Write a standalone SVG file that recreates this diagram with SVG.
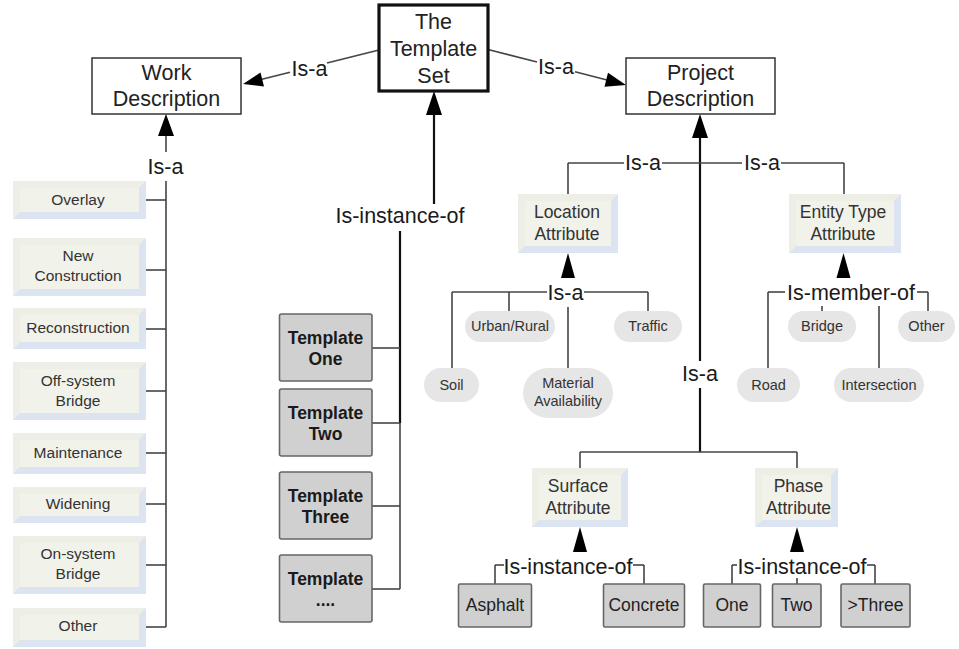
<svg xmlns="http://www.w3.org/2000/svg" width="959" height="649" viewBox="0 0 959 649">
<defs>
<style>
text{font-family:"Liberation Sans",Arial,sans-serif;text-anchor:middle}
.lbl{font-size:21.5px;fill:#1a1a1a}
.main{font-size:21.5px;fill:#222}
.box{fill:#fff;stroke:#333;stroke-width:1.5}
.setbox{fill:#fff;stroke:#111;stroke-width:3.2}
.bv-o{fill:#DCE4F2}
.bv-tl{fill:#EDEEE6}
.bv-f{fill:#F1F2EA}
.ltxt{font-size:15.5px;fill:#333}
.atxt{font-size:17.5px;fill:#333}
.pill{fill:#E6E6E6}
.ptxt{font-size:14.5px;fill:#333}
.tbox{fill:#D0D0D0;stroke:#666;stroke-width:1.6}
.ttxt{font-size:17.5px;font-weight:bold;fill:#1a1a1a}
.gtxt{font-size:17.5px;fill:#222}
.thick{stroke:#111;stroke-width:2.2;fill:none}
.thin{stroke:#444;stroke-width:1.6;fill:none}
.head{fill:#000}
</style>
</defs>
<rect width="959" height="649" fill="#fff"/>

<g id="connectors">
  <line class="thin" x1="379" y1="50" x2="327" y2="63"/>
  <line class="thin" x1="290" y1="72.3" x2="262" y2="79.3"/>
  <polygon class="head" points="243,84 260.5,72.5 264,86.5"/>
  <text class="lbl" x="309.5" y="76">Is-a</text>
  <line class="thin" x1="488" y1="49.5" x2="537" y2="62"/>
  <line class="thin" x1="575" y1="71.8" x2="607" y2="80"/>
  <polygon class="head" points="626,85 604.5,86.8 608,72.8"/>
  <text class="lbl" x="556" y="73.5">Is-a</text>

  <polygon class="head" points="166,114 158,136 174,136"/>
  <line class="thin" x1="166" y1="136" x2="166" y2="152"/>
  <text class="lbl" x="165.5" y="174">Is-a</text>
  <line class="thin" x1="166" y1="181" x2="166" y2="627"/>
  <line class="thin" x1="146" y1="200" x2="166" y2="200"/>
  <line class="thin" x1="146" y1="270" x2="166" y2="270"/>
  <line class="thin" x1="146" y1="329" x2="166" y2="329"/>
  <line class="thin" x1="146" y1="391" x2="166" y2="391"/>
  <line class="thin" x1="146" y1="453" x2="166" y2="453"/>
  <line class="thin" x1="146" y1="504" x2="166" y2="504"/>
  <line class="thin" x1="146" y1="565" x2="166" y2="565"/>
  <line class="thin" x1="146" y1="627" x2="166" y2="627"/>

  <polygon class="head" points="434,91 426,115 442,115"/>
  <line class="thick" x1="434" y1="115" x2="434" y2="204"/>
  <text class="lbl" x="400" y="223">Is-instance-of</text>
  <line class="thick" x1="400" y1="231" x2="400" y2="423"/>
  <line class="thin" x1="400" y1="423" x2="400" y2="589"/>
  <line class="thin" x1="372" y1="348" x2="400" y2="348"/>
  <line class="thin" x1="372" y1="423" x2="400" y2="423"/>
  <line class="thin" x1="372" y1="506" x2="400" y2="506"/>
  <line class="thin" x1="372" y1="589" x2="400" y2="589"/>

  <polygon class="head" points="700,114 692,138 708,138"/>
  <line class="thick" x1="700" y1="138" x2="700" y2="361"/>
  <line class="thin" x1="568" y1="163" x2="624" y2="163"/>
  <line class="thin" x1="662" y1="163" x2="742" y2="163"/>
  <line class="thin" x1="781" y1="163" x2="844" y2="163"/>
  <line class="thin" x1="568" y1="163" x2="568" y2="194"/>
  <line class="thin" x1="844" y1="163" x2="844" y2="194"/>
  <text class="lbl" x="643" y="170">Is-a</text>
  <text class="lbl" x="762" y="170">Is-a</text>
  <text class="lbl" x="700" y="380.5">Is-a</text>
  <line class="thick" x1="700" y1="388" x2="700" y2="452"/>
  <line class="thin" x1="580" y1="452" x2="797" y2="452"/>
  <line class="thin" x1="580" y1="452" x2="580" y2="468"/>
  <line class="thin" x1="797" y1="452" x2="797" y2="468"/>

  <polygon class="head" points="568,253 561,278 575,278"/>
  <line class="thin" x1="452" y1="292" x2="547" y2="292"/>
  <line class="thin" x1="584" y1="292" x2="648" y2="292"/>
  <line class="thin" x1="452" y1="292" x2="452" y2="368"/>
  <line class="thin" x1="509" y1="292" x2="509" y2="311"/>
  <line class="thin" x1="648" y1="292" x2="648" y2="311"/>
  <line class="thin" x1="568" y1="307" x2="568" y2="368"/>
  <text class="lbl" x="565.5" y="300">Is-a</text>

  <polygon class="head" points="843.5,253 836.5,278 850.5,278"/>
  <line class="thin" x1="768" y1="292" x2="785" y2="292"/>
  <line class="thin" x1="768" y1="292" x2="768" y2="368"/>
  <line class="thin" x1="917" y1="292" x2="928" y2="292"/>
  <line class="thin" x1="928" y1="292" x2="928" y2="311"/>
  <line class="thin" x1="822" y1="306" x2="822" y2="311"/>
  <line class="thin" x1="879" y1="306" x2="879" y2="368"/>
  <text class="lbl" x="851" y="300">Is-member-of</text>

  <polygon class="head" points="580,527 573,552 587,552"/>
  <line class="thin" x1="495" y1="565" x2="504" y2="565"/>
  <line class="thin" x1="495" y1="565" x2="495" y2="584"/>
  <line class="thin" x1="633" y1="565" x2="644" y2="565"/>
  <line class="thin" x1="644" y1="565" x2="644" y2="584"/>
  <text class="lbl" x="568" y="573.5">Is-instance-of</text>

  <polygon class="head" points="797,527 790,552 804,552"/>
  <line class="thin" x1="732" y1="565" x2="737" y2="565"/>
  <line class="thin" x1="732" y1="565" x2="732" y2="584"/>
  <line class="thin" x1="867" y1="565" x2="875" y2="565"/>
  <line class="thin" x1="875" y1="565" x2="875" y2="584"/>
  <line class="thin" x1="797" y1="578" x2="797" y2="584"/>
  <text class="lbl" x="802" y="573.5">Is-instance-of</text>
</g>

<g id="template-set">
  <rect class="setbox" x="379" y="5" width="109" height="86"/>
  <text class="main" x="433.5" y="28.5">The</text>
  <text class="main" x="433.5" y="55.5">Template</text>
  <text class="main" x="433.5" y="82.5">Set</text>
</g>
<g id="work-description">
  <rect class="box" x="92" y="58" width="149" height="56"/>
  <text class="main" x="166.5" y="80">Work</text>
  <text class="main" x="166.5" y="106">Description</text>
</g>
<g id="project-description">
  <rect class="box" x="626" y="58" width="149" height="56"/>
  <text class="main" x="700.5" y="80">Project</text>
  <text class="main" x="700.5" y="106">Description</text>
</g>

<g id="overlay">
  <rect class="bv-o" x="13" y="181" width="133" height="38"/>
  <polygon class="bv-tl" points="13,181 146,181 139,188 20,188 20,212 13,219"/>
  <rect class="bv-f" x="20" y="188" width="119" height="24"/>
  <text class="ltxt" x="78" y="204.5">Overlay</text>
</g>
<g id="new-construction">
  <rect class="bv-o" x="13" y="238" width="133" height="58"/>
  <polygon class="bv-tl" points="13,238 146,238 139,245 20,245 20,289 13,296"/>
  <rect class="bv-f" x="20" y="245" width="119" height="44"/>
  <text class="ltxt" x="78" y="261">New</text>
  <text class="ltxt" x="78" y="281">Construction</text>
</g>
<g id="reconstruction">
  <rect class="bv-o" x="13" y="308" width="133" height="41"/>
  <polygon class="bv-tl" points="13,308 146,308 139,315 20,315 20,342 13,349"/>
  <rect class="bv-f" x="20" y="315" width="119" height="27"/>
  <text class="ltxt" x="78" y="333">Reconstruction</text>
</g>
<g id="off-system-bridge">
  <rect class="bv-o" x="13" y="362" width="133" height="58"/>
  <polygon class="bv-tl" points="13,362 146,362 139,369 20,369 20,413 13,420"/>
  <rect class="bv-f" x="20" y="369" width="119" height="44"/>
  <text class="ltxt" x="78" y="386">Off-system</text>
  <text class="ltxt" x="78" y="406">Bridge</text>
</g>
<g id="maintenance">
  <rect class="bv-o" x="13" y="433" width="133" height="41"/>
  <polygon class="bv-tl" points="13,433 146,433 139,440 20,440 20,467 13,474"/>
  <rect class="bv-f" x="20" y="440" width="119" height="27"/>
  <text class="ltxt" x="78" y="457.5">Maintenance</text>
</g>
<g id="widening">
  <rect class="bv-o" x="13" y="487" width="133" height="36"/>
  <polygon class="bv-tl" points="13,487 146,487 139,494 20,494 20,516 13,523"/>
  <rect class="bv-f" x="20" y="494" width="119" height="22"/>
  <text class="ltxt" x="78" y="509">Widening</text>
</g>
<g id="on-system-bridge">
  <rect class="bv-o" x="13" y="536" width="133" height="58"/>
  <polygon class="bv-tl" points="13,536 146,536 139,543 20,543 20,587 13,594"/>
  <rect class="bv-f" x="20" y="543" width="119" height="44"/>
  <text class="ltxt" x="78" y="559">On-system</text>
  <text class="ltxt" x="78" y="579">Bridge</text>
</g>
<g id="other-work">
  <rect class="bv-o" x="13" y="608" width="133" height="39"/>
  <polygon class="bv-tl" points="13,608 146,608 139,615 20,615 20,640 13,647"/>
  <rect class="bv-f" x="20" y="615" width="119" height="25"/>
  <text class="ltxt" x="78" y="631">Other</text>
</g>

<g id="template-one">
  <rect class="tbox" x="279.5" y="314" width="92.5" height="67" rx="2"/>
  <text class="ttxt" x="325.5" y="343.5">Template</text>
  <text class="ttxt" x="325.5" y="364.5">One</text>
</g>
<g id="template-two">
  <rect class="tbox" x="279.5" y="389" width="92.5" height="67" rx="2"/>
  <text class="ttxt" x="325.5" y="418.5">Template</text>
  <text class="ttxt" x="325.5" y="439.5">Two</text>
</g>
<g id="template-three">
  <rect class="tbox" x="279.5" y="472" width="92.5" height="67" rx="2"/>
  <text class="ttxt" x="325.5" y="501.5">Template</text>
  <text class="ttxt" x="325.5" y="522.5">Three</text>
</g>
<g id="template-more">
  <rect class="tbox" x="279.5" y="555" width="92.5" height="67" rx="2"/>
  <text class="ttxt" x="325.5" y="584.5">Template</text>
  <text class="ttxt" x="325.5" y="605.5">....</text>
</g>

<g id="location-attribute">
  <rect class="bv-o" x="518" y="194" width="100" height="59"/>
  <polygon class="bv-tl" points="518,194 618,194 611,201 525,201 525,246 518,253"/>
  <rect class="bv-f" x="525" y="201" width="86" height="45"/>
  <text class="atxt" x="567" y="217.5">Location</text>
  <text class="atxt" x="567" y="239.5">Attribute</text>
</g>
<g id="entity-type-attribute">
  <rect class="bv-o" x="789" y="194" width="112" height="59"/>
  <polygon class="bv-tl" points="789,194 901,194 894,201 796,201 796,246 789,253"/>
  <rect class="bv-f" x="796" y="201" width="98" height="45"/>
  <text class="atxt" x="843" y="217.5">Entity Type</text>
  <text class="atxt" x="843" y="239.5">Attribute</text>
</g>
<g id="surface-attribute">
  <rect class="bv-o" x="532" y="468" width="96" height="59"/>
  <polygon class="bv-tl" points="532,468 628,468 621,475 539,475 539,520 532,527"/>
  <rect class="bv-f" x="539" y="475" width="82" height="45"/>
  <text class="atxt" x="578" y="491.5">Surface</text>
  <text class="atxt" x="578" y="513.5">Attribute</text>
</g>
<g id="phase-attribute">
  <rect class="bv-o" x="755" y="468" width="83" height="59"/>
  <polygon class="bv-tl" points="755,468 838,468 831,475 762,475 762,520 755,527"/>
  <rect class="bv-f" x="762" y="475" width="69" height="45"/>
  <text class="atxt" x="798.5" y="491.5">Phase</text>
  <text class="atxt" x="798.5" y="513.5">Attribute</text>
</g>

<g id="urban-rural">
  <rect class="pill" x="465" y="311" width="90" height="31" rx="15.5"/>
  <text class="ptxt" x="510" y="331">Urban/Rural</text>
</g>
<g id="traffic">
  <rect class="pill" x="614" y="311" width="68" height="31" rx="15.5"/>
  <text class="ptxt" x="648" y="331">Traffic</text>
</g>
<g id="soil">
  <rect class="pill" x="424" y="368" width="55" height="34" rx="17"/>
  <text class="ptxt" x="451.5" y="390">Soil</text>
</g>
<g id="material-availability">
  <rect class="pill" x="523" y="368" width="90" height="50" rx="25"/>
  <text class="ptxt" x="568" y="388">Material</text>
  <text class="ptxt" x="568" y="406">Availability</text>
</g>
<g id="bridge">
  <rect class="pill" x="788" y="311" width="68" height="31" rx="15.5"/>
  <text class="ptxt" x="822" y="331">Bridge</text>
</g>
<g id="other-entity">
  <rect class="pill" x="898" y="311" width="57" height="31" rx="15.5"/>
  <text class="ptxt" x="926.5" y="331">Other</text>
</g>
<g id="road">
  <rect class="pill" x="737" y="368" width="63" height="34" rx="17"/>
  <text class="ptxt" x="768.5" y="390">Road</text>
</g>
<g id="intersection">
  <rect class="pill" x="834" y="368" width="90" height="34" rx="17"/>
  <text class="ptxt" x="879" y="390">Intersection</text>
</g>

<g id="asphalt">
  <rect class="tbox" x="458.5" y="584" width="73" height="43" rx="1.5"/>
  <text class="gtxt" x="495" y="611">Asphalt</text>
</g>
<g id="concrete">
  <rect class="tbox" x="603.5" y="584" width="81" height="43" rx="1.5"/>
  <text class="gtxt" x="644" y="611">Concrete</text>
</g>
<g id="one">
  <rect class="tbox" x="703.5" y="584" width="57" height="43" rx="1.5"/>
  <text class="gtxt" x="732" y="611">One</text>
</g>
<g id="two">
  <rect class="tbox" x="772.5" y="584" width="48.5" height="43" rx="1.5"/>
  <text class="gtxt" x="796.5" y="611">Two</text>
</g>
<g id="three-plus">
  <rect class="tbox" x="841" y="584" width="69" height="43" rx="1.5"/>
  <text class="gtxt" x="875.5" y="611">&gt;Three</text>
</g>
</svg>
